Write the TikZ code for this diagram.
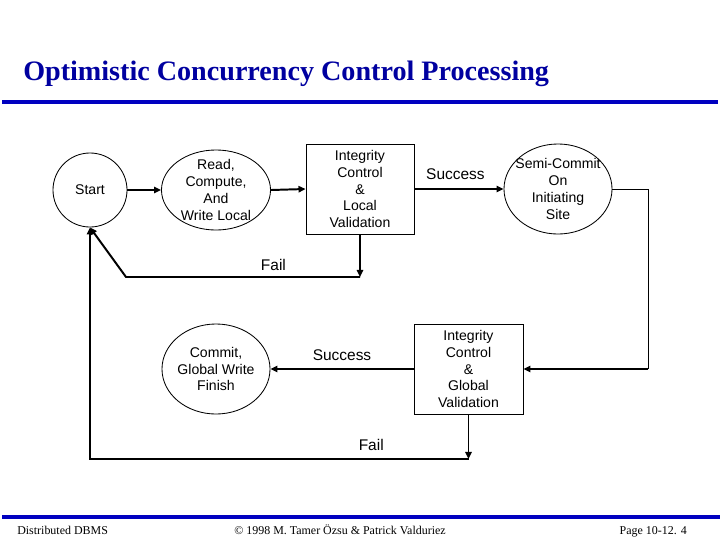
\documentclass[tikz,border=0pt]{standalone}
\usepackage{fontspec}
\setmainfont{Liberation Serif}
\newfontfamily\arialfont{Liberation Sans}
\usetikzlibrary{shapes.geometric,arrows.meta}
\definecolor{titleblue}{RGB}{0,0,160}
\definecolor{ruleblue}{RGB}{0,0,192}
\begin{document}
\begin{tikzpicture}[x=0.025cm,y=-0.025cm,
  every node/.style={inner sep=0pt},
  txt/.style={font=\arialfont\fontsize{10}{12}\selectfont, align=center, inner sep=0pt},
  shapeline/.style={draw, line width=0.6pt},
  circ/.style={shapeline, circle, minimum size=1.85cm},
  ell/.style={shapeline, ellipse, minimum width=2.7cm, minimum height=2.25cm},
  box/.style={shapeline, rectangle, minimum width=2.7cm, minimum height=2.25cm},
  conn/.style={line width=1.4pt, -{Triangle[length=5pt,width=4.5pt]}},
  lbl/.style={font=\arialfont\fontsize{11}{13}\selectfont},
  foot/.style={font=\fontsize{8.5}{10}\selectfont}]
\useasboundingbox (0,0) rectangle (720,540);

% title and rules
\node[anchor=base west, font=\bfseries\fontsize{20}{24}\selectfont, text=titleblue] (title) at (23,80) {Optimistic Concurrency Control Processing};
\fill[ruleblue] (2,100) rectangle (718,104);
\fill[ruleblue] (2,515) rectangle (720,519);

% footer
\node[foot, anchor=base west] (f-left) at (17,534) {Distributed DBMS};
\node[foot, anchor=base] (f-mid) at (340,534) {\textcopyright{} 1998 M. Tamer Özsu \& Patrick Valduriez};
\node[foot, anchor=base east] (f-right) at (687,534) {Page 10-12. 4};

% nodes
\node[circ, label={[txt]center:Start}] (start) at (90,190) {};
\node[ell, minimum width=2.725cm, minimum height=2cm,
      label={[txt]center:{Read,\\Compute,\\And\\Write Local}}] (read) at (216,190) {};
\node[box, label={[txt]center:{Integrity\\Control\\\&\\Local\\Validation}}] (box1) at (360,189) {};
\node[ell, label={[txt]center:{Semi-Commit\\On\\Initiating\\Site}}] (semi) at (558,189) {};
\node[box, minimum width=2.725cm, label={[txt]center:{Integrity\\Control\\\&\\Global\\Validation}}] (box2) at (468.5,369) {};
\node[ell, label={[txt]center:{Commit,\\Global Write\\Finish}}] (commit) at (216,369) {};

% coordinates
\coordinate (f1) at (360,277);
\coordinate (c1) at (126,277);
\coordinate (f2) at (468.5,459);
\coordinate (c2) at (90,459);
\coordinate (s1) at (648,189);
\coordinate (s2) at (648,369);

% connectors
\draw[conn] (start.east) -- (read.west);
\draw[conn] (read.east) -- (box1.west);
\draw[conn] (box1.east) -- node[lbl, pos=0.46, yshift=10.6pt] (succ1) {Success} (semi.west);
\draw[conn] (box1.south) -- (f1);
\draw[conn] (f1) -- node[lbl, pos=0.37, yshift=8.5pt] (fail1) {Fail} (c1) -- (start.south);
\draw[line width=0.7pt] (semi.east) -- (s1) -- (s2);
\draw[conn] (s2) -- (box2.east);
\draw[conn] (box2.west) -- node[lbl, pos=0.5, yshift=10pt] (succ2) {Success} (commit.east);
\draw[conn] (box2.south) -- (f2);
\draw[conn] (f2) -- node[lbl, pos=0.257, yshift=10pt] (fail2) {Fail} (c2) -- (start.south);
\end{tikzpicture}
\end{document}
